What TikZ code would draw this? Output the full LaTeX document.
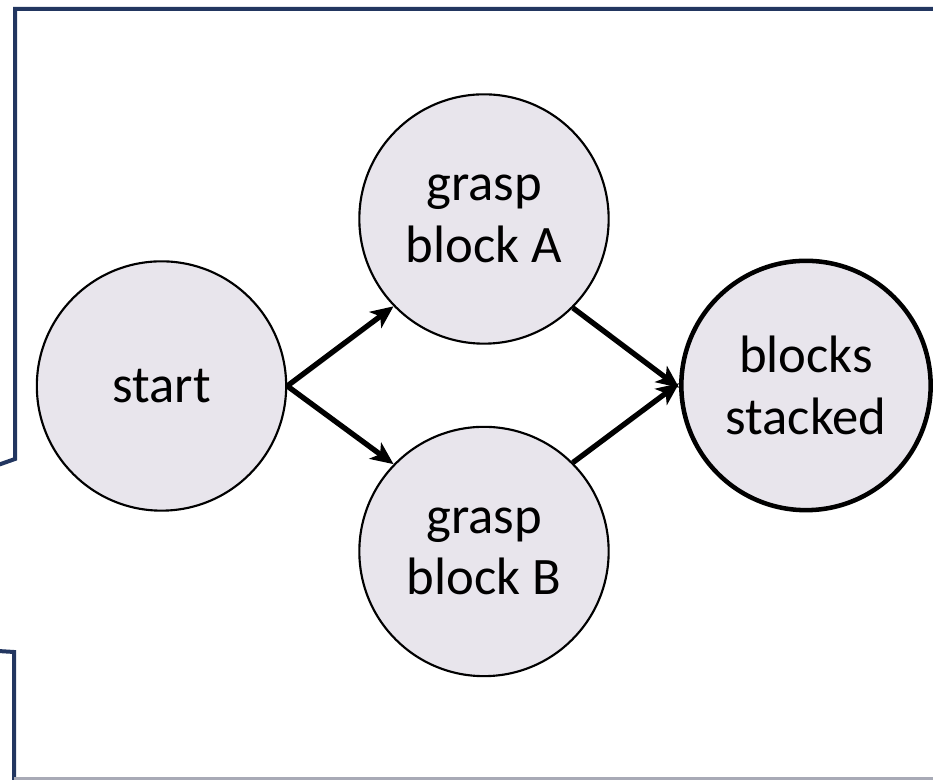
\documentclass[tikz,border=0pt]{standalone}
\usepackage{fontspec}
\setmainfont{Carlito}
\usetikzlibrary{arrows.meta}
\definecolor{statefill}{RGB}{232,229,236}
\definecolor{framenavy}{RGB}{34,54,96}
\definecolor{framegrey}{RGB}{168,170,182}
\tikzset{
  state/.style={circle, draw=black, line width=1.6pt, fill=statefill,
    minimum size=187pt, inner sep=0pt, align=center,
    font=\fontsize{39.5}{46}\selectfont},
  goal/.style={state, line width=3.4pt},
  trans/.style={line width=4pt, -{Stealth[length=17pt,width=15pt,inset=4.5pt]}},
  frameline/.style={line width=3pt, draw=framenavy, line join=miter}
}
\begin{document}
\begin{tikzpicture}[x=0.75pt,y=0.75pt]
  \useasboundingbox (0,0) rectangle (933,780);

  % surrounding frame pieces
  \draw[frameline] (940,771) -- (15,771) -- (15,321) -- (-2,315);
  \draw[frameline] (-2,129) -- (14,128) -- (14,-2);
  \draw[line width=2.4pt, draw=framegrey] (14,1) -- (940,1);

  % states
  \node[state] (start) at (161.5,394) {start};
  \node[state] (graspA) at (484,561) {grasp\\block A};
  \node[state] (graspB) at (484,228.5) {grasp\\block B};
  \node[goal] (stacked) at (806,394.5) {blocks\\stacked};

  % transitions
  \draw[trans] (start.east) -- (graspA.224);
  \draw[trans] (start.east) -- (graspB.136);
  \draw[trans] (graspA.-45) -- (stacked.181);
  \draw[trans] (graspB.45) -- (stacked.179);
\end{tikzpicture}
\end{document}
